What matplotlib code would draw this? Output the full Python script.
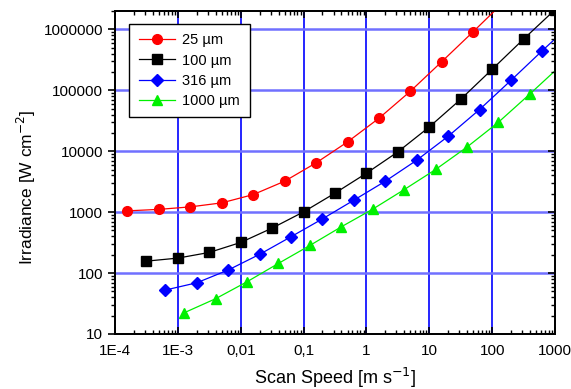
import numpy as np
import matplotlib.pyplot as plt
from matplotlib.ticker import LogLocator, FixedLocator, FixedFormatter, NullFormatter

plt.rcParams['font.family'] = ['Liberation Sans', 'DejaVu Sans']

# data (last point of each series lies outside the axes)
x_25 = [1.58e-4, 5e-4, 1.58e-3, 5e-3, 0.0158, 0.05, 0.158, 0.5, 1.58, 5, 15.8, 50, 158]
y_25 = [1050, 1110, 1220, 1420, 1940, 3220, 6430, 14200, 34700, 96400, 295000, 917000, 2.9e6]

x_100 = [3.16e-4, 1e-3, 3.16e-3, 0.01, 0.0316, 0.1, 0.316, 1, 3.16, 10, 31.6, 100, 316, 1000]
y_100 = [157, 176, 218, 318, 547, 1010, 2050, 4350, 9750, 25000, 71100, 221000, 692000, 2.1e6]

x_316 = [6.3e-4, 2e-3, 6.3e-3, 0.02, 0.063, 0.2, 0.63, 2, 6.3, 20, 63, 200, 630, 2000]
y_316 = [52.6, 69.3, 112, 203, 394, 776, 1570, 3220, 7110, 17600, 48300, 146000, 448000, 1.35e6]

x_1000 = [1.26e-3, 3.98e-3, 0.0126, 0.0398, 0.126, 0.398, 1.26, 3.98, 12.6, 39.8, 126, 398, 1260]
y_1000 = [22.3, 37.9, 72, 144, 284, 574, 1120, 2340, 5010, 11700, 29900, 86900, 260000]

x_ticks = [1e-4, 1e-3, 1e-2, 1e-1, 1, 10, 100, 1000]
x_ticklabels = ['1E-4', '1E-3', '0,01', '0,1', '1', '10', '100', '1000']
y_ticks = [10, 100, 1000, 10000, 100000, 1000000]
y_ticklabels = ['10', '100', '1000', '10000', '100000', '1000000']

fig = plt.figure(figsize=(5.71, 3.89), dpi=100)
ax = fig.add_axes([0.2014, 0.1414, 0.7706, 0.8303])

ax.set_xscale('log')
ax.set_yscale('log')
ax.set_xlim(1e-4, 1000)
ax.set_ylim(10, 2e6)

for v in x_ticks[1:-1]:
    ax.axvline(v, color='#0000ff', lw=1.2, zorder=1)
for v in y_ticks[1:]:
    ax.axhline(v, color='#7070ff', lw=1.8, zorder=1)

ax.plot(x_25, y_25, '-o', color='#ff0000', lw=0.9, ms=7, label='25 µm', zorder=3)
ax.plot(x_100, y_100, '-s', color='#000000', lw=0.9, ms=6.5, label='100 µm', zorder=3)
ax.plot(x_316, y_316, '-D', color='#0000ff', lw=0.9, ms=6, label='316 µm', zorder=3)
ax.plot(x_1000, y_1000, '-^', color='#00f000', lw=0.9, ms=7.5, label='1000 µm', zorder=3)

ax.xaxis.set_major_locator(FixedLocator(x_ticks))
ax.xaxis.set_major_formatter(FixedFormatter(x_ticklabels))
ax.yaxis.set_major_locator(FixedLocator(y_ticks))
ax.yaxis.set_major_formatter(FixedFormatter(y_ticklabels))
ax.xaxis.set_minor_locator(LogLocator(base=10, subs=np.arange(2, 10), numticks=20))
ax.yaxis.set_minor_locator(LogLocator(base=10, subs=np.arange(2, 10), numticks=20))
ax.xaxis.set_minor_formatter(NullFormatter())
ax.yaxis.set_minor_formatter(NullFormatter())

ax.tick_params(axis='x', which='both', direction='in', top=True, labelsize=11, pad=7)
ax.tick_params(axis='y', which='both', direction='out', left=True, labelsize=11)
ax.tick_params(which='major', length=5, width=1.2)
ax.tick_params(which='minor', length=3, width=1)

# right axis ticks pointing inward
ax2 = ax.twinx()
ax2.set_yscale('log')
ax2.set_ylim(ax.get_ylim())
ax2.yaxis.set_major_locator(FixedLocator(y_ticks))
ax2.yaxis.set_minor_locator(LogLocator(base=10, subs=np.arange(2, 10), numticks=20))
ax2.yaxis.set_major_formatter(NullFormatter())
ax2.yaxis.set_minor_formatter(NullFormatter())
ax2.tick_params(axis='y', which='both', direction='in')
ax2.tick_params(which='major', length=5, width=1.2)
ax2.tick_params(which='minor', length=3, width=1)

for a in (ax, ax2):
    for s in a.spines.values():
        s.set_linewidth(1.3)

ax.set_xlabel('Scan Speed [m s$^{-1}$]', fontsize=13, labelpad=6)
ax.set_ylabel('Irradiance [W cm$^{-2}$]', fontsize=12.5, labelpad=5)
ax.yaxis.set_label_coords(-0.175, 0.455)

leg = ax.legend(loc='upper left', bbox_to_anchor=(0.032, 0.96), fontsize=10.5,
                frameon=True, fancybox=False, edgecolor='black', framealpha=1,
                handlelength=2.5, borderpad=0.65, labelspacing=0.42, handletextpad=0.5,
                borderaxespad=0)
leg.get_frame().set_linewidth(1)
leg.set_zorder(5)

fig.savefig('out.png', dpi=100)
